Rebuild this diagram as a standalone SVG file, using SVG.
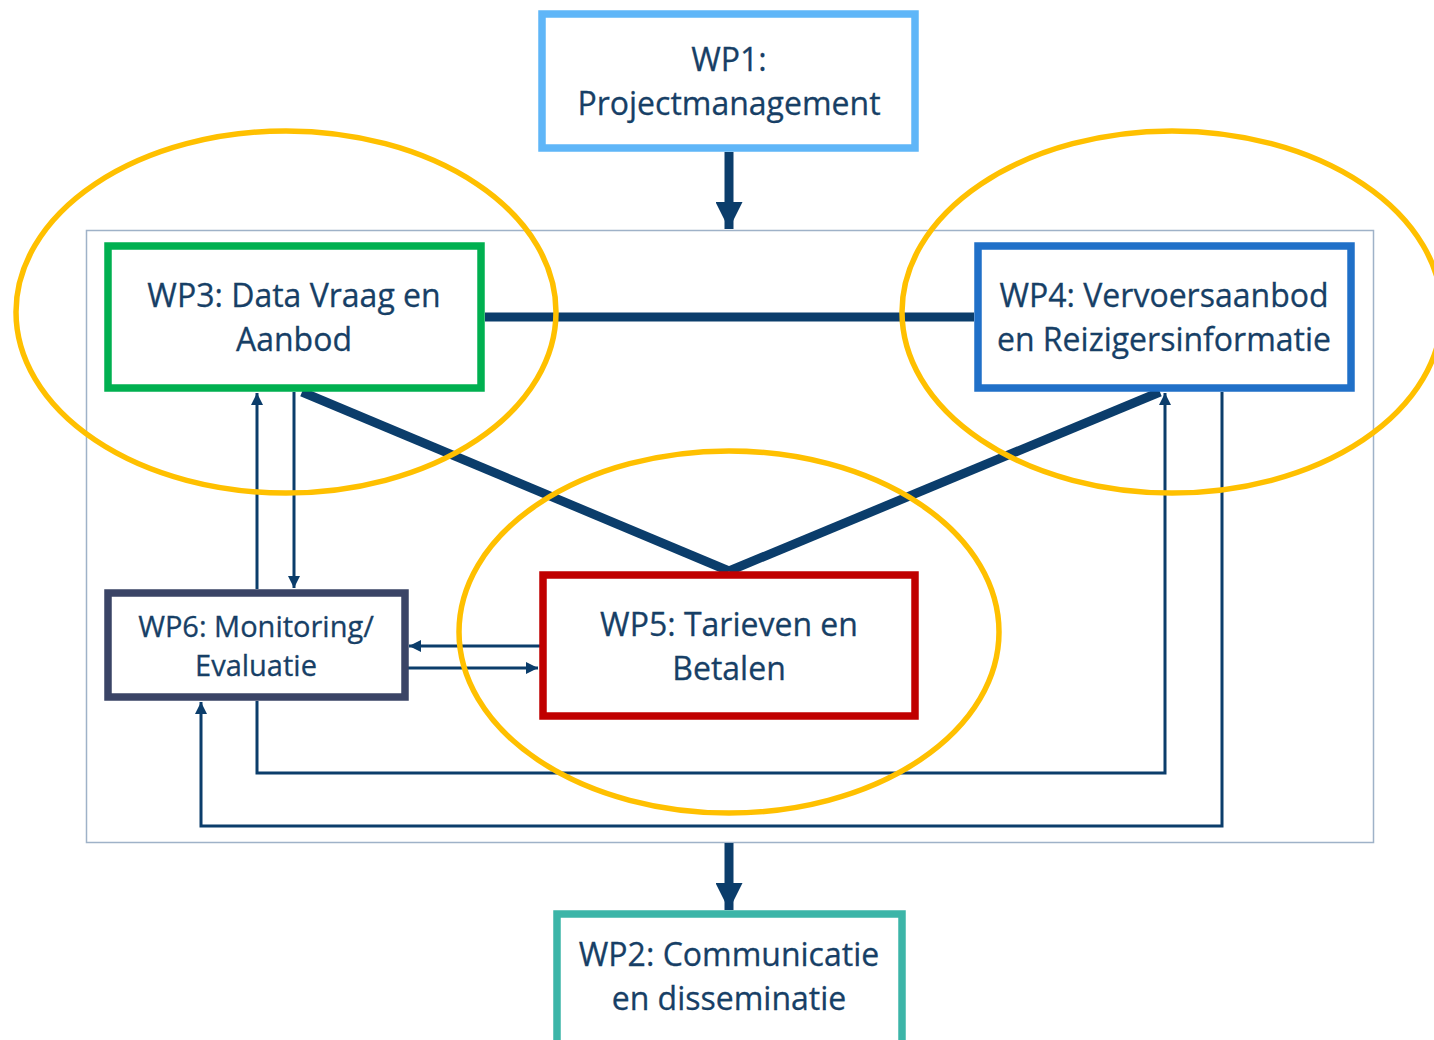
<svg xmlns="http://www.w3.org/2000/svg" width="1434" height="1040" viewBox="0 0 1434 1040">
<style>
.box{fill:#fff;stroke-width:7.5}
.t{font-family:"Open Sans","Noto Sans",sans-serif;font-size:32px;fill:#173F66;text-anchor:middle;stroke:#173F66;stroke-width:0.3}
.t6{font-size:29px}
.thick{stroke:#0B3D6B;stroke-width:9;fill:none}
.thin{stroke:#0B3D6B;stroke-width:3;fill:none}
.ell{fill:none;stroke:#FFC000;stroke-width:5.5}
</style>
<defs>
<marker id="ah" viewBox="0 0 10 10" refX="10" refY="5" markerWidth="4.5" markerHeight="4" orient="auto" markerUnits="strokeWidth">
<path d="M0,0 L10,5 L0,10 z" fill="#0B3D6B"/>
</marker>
<marker id="ahb" viewBox="0 0 10 10" refX="10" refY="5" markerWidth="3" markerHeight="3" orient="auto" markerUnits="strokeWidth">
<path d="M0,0 L10,5 L0,10 z" fill="#0B3D6B"/>
</marker>
</defs>
<rect width="1434" height="1040" fill="#fff"/>
<rect id="container" x="86.5" y="230.5" width="1287" height="612" fill="none" stroke="#9FB2C8" stroke-width="1.5"/>
<g id="connectors">
<line class="thick" x1="729" y1="152" x2="729" y2="229" marker-end="url(#ahb)"/>
<line class="thick" x1="729" y1="843" x2="729" y2="910" marker-end="url(#ahb)"/>
<line class="thick" x1="485" y1="317" x2="974" y2="317"/>
<line class="thick" x1="302" y1="392" x2="729" y2="571"/>
<line class="thick" x1="1160" y1="392" x2="729" y2="571"/>
<line class="thin" x1="257" y1="589" x2="257" y2="393" marker-end="url(#ah)"/>
<line class="thin" x1="294" y1="392" x2="294" y2="588" marker-end="url(#ah)"/>
<line class="thin" x1="543" y1="646" x2="409" y2="646" marker-end="url(#ah)"/>
<line class="thin" x1="408" y1="668" x2="538" y2="668" marker-end="url(#ah)"/>
<polyline class="thin" points="257,701 257,773 1165,773 1165,393" marker-end="url(#ah)"/>
<polyline class="thin" points="1222,392 1222,826 201,826 201,702" marker-end="url(#ah)"/>
</g>
<g id="wp1">
<rect class="box" x="542" y="14" width="373" height="134" stroke="#5FB6F8" stroke-width="8.5"/>
<text class="t" x="729" y="71">WP1:</text>
<text class="t" x="729" y="115">Projectmanagement</text>
</g>
<g id="wp3">
<rect class="box" x="108" y="246" width="373" height="142" stroke="#00B050"/>
<text class="t" x="294" y="307">WP3: Data Vraag en</text>
<text class="t" x="294" y="351">Aanbod</text>
</g>
<g id="wp4">
<rect class="box" x="978" y="246" width="373" height="142" stroke="#2070C8"/>
<text class="t" x="1164" y="307">WP4: Vervoersaanbod</text>
<text class="t" x="1164" y="351">en Reizigersinformatie</text>
</g>
<g id="wp5">
<rect class="box" x="543" y="575" width="372" height="141" stroke="#C00000"/>
<text class="t" x="729" y="636">WP5: Tarieven en</text>
<text class="t" x="729" y="680">Betalen</text>
</g>
<g id="wp6">
<rect class="box" x="108" y="593" width="297" height="104" stroke="#3A4466"/>
<text class="t t6" x="256" y="637">WP6: Monitoring/</text>
<text class="t t6" x="256" y="676">Evaluatie</text>
</g>
<g id="wp2">
<rect class="box" x="557" y="914" width="345" height="130" stroke="#3CB5A8"/>
<text class="t" x="729" y="966">WP2: Communicatie</text>
<text class="t" x="729" y="1010">en disseminatie</text>
</g>
<g id="highlights">
<ellipse class="ell" cx="286" cy="312" rx="270" ry="181"/>
<ellipse class="ell" cx="1172" cy="312" rx="270" ry="181"/>
<ellipse class="ell" cx="729" cy="632" rx="270" ry="181"/>
</g>
</svg>
